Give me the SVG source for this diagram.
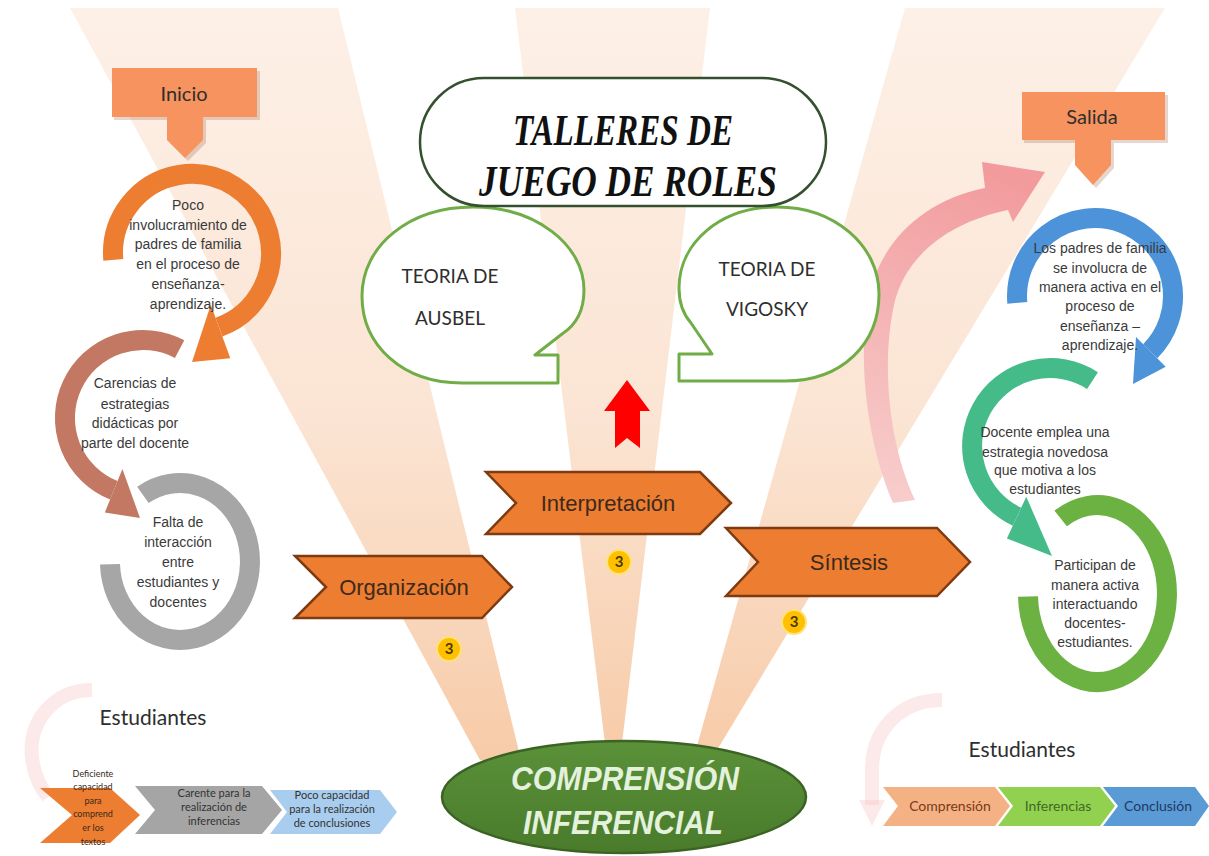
<svg xmlns="http://www.w3.org/2000/svg" width="1209" height="856" viewBox="0 0 1209 856">
<defs>
<linearGradient id="beam" gradientUnits="userSpaceOnUse" x1="0" y1="8" x2="0" y2="760">
<stop offset="0" stop-color="#fdf0e7"/>
<stop offset="0.55" stop-color="#fbe4d3"/>
<stop offset="1" stop-color="#f7cba8"/>
</linearGradient>
<linearGradient id="pink" gradientUnits="userSpaceOnUse" x1="1020" y1="175" x2="895" y2="500">
<stop offset="0" stop-color="#f29a9c"/>
<stop offset="1" stop-color="#f7cdcc"/>
</linearGradient>
<linearGradient id="ell" x1="0" y1="0" x2="0" y2="1">
<stop offset="0" stop-color="#5b9139"/>
<stop offset="1" stop-color="#497b2b"/>
</linearGradient>
</defs>
<style>
.ring{fill:none;stroke-width:20}
.rt{font-family:"Liberation Sans",Arial,sans-serif;font-size:14px;fill:#3a3a3a;text-anchor:middle}
.lbl{font-family:Lato,"Open Sans",sans-serif;fill:#2e2e2e;text-anchor:middle}
.chev{fill:#ed7d31;stroke:#7e3a10;stroke-width:2.5;stroke-linejoin:miter}
.ct{font-family:"Liberation Sans",Arial,sans-serif;font-size:22px;fill:#3b2a1c;text-anchor:middle}
.badge{fill:#ffc000;stroke:#ffe27a;stroke-width:2}
.bt{font-family:Lato,sans-serif;font-weight:bold;font-size:15px;fill:#4a3a00;text-anchor:middle}
.bub{fill:#ffffff;stroke:#70ad47;stroke-width:3;stroke-linejoin:round}
.callout{fill:#f7935f}
.shadow{fill:#9a5a3a;opacity:0.25}
.sm{font-family:Lato,"Open Sans",sans-serif;text-anchor:middle}
</style>
<rect width="1209" height="856" fill="#ffffff"/>
<g id="background">
<polygon fill="url(#beam)" points="70,8 338,8 521,760 480,760"/>
<polygon fill="url(#beam)" points="515,8 710,8 620,760 607,760"/>
<polygon fill="url(#beam)" points="905,8 1165,8 711,760 693,760"/>
</g>

<g id="connectors">
<path id="pink-arrow" fill="url(#pink)" d="M893,503 C866,440 858,360 868,300 C880,240 925,200 985,188 L982,162 L1045,172 L1013,222 L1008,210 C950,222 905,255 894,305 C882,360 887,440 915,500 Z"/>
<path id="red-arrow" fill="#ff0000" d="M627,380 L650,411 L640,411 L640,448 L627,438 L615,448 L615,411 L604,411 Z"/>
<path id="faint-left" d="M92,690 C55,690 28,720 32,758 C34,775 40,787 48,797" fill="none" stroke="#f5c0c0" stroke-width="14" opacity="0.35"/>
<path id="faint-right" d="M942,700 C900,700 872,730 872,770 L872,805" fill="none" stroke="#f5c0c0" stroke-width="14" opacity="0.35"/>
<polygon points="859,800 885,800 872,826" fill="#f5c0c0" opacity="0.35"/>
</g>

<g id="inicio">
<path class="shadow" d="M114,71 H260 V120 H206 V143 L188,161 L170,143 V120 H114 Z"/>
<path class="callout" d="M112,68 H257 V117 H203 V140 L185,158 L167,140 V117 H112 Z"/>
<text class="lbl" x="184" y="101" font-size="20">Inicio</text>
</g>

<g id="salida">
<path class="shadow" d="M1024,95 H1168 V143 H1114 V168 L1096,188 L1078,168 V143 H1024 Z"/>
<path class="callout" d="M1022,92 H1165 V140 H1111 V165 L1093,185 L1075,165 V140 H1022 Z"/>
<text class="lbl" x="1092" y="124" font-size="20">Salida</text>
</g>

<g id="ring-grey">
<path class="ring" stroke="#a6a6a6" d="M142.9,494.9 A70,78.5 0 1 1 110,564.2"/>
<text class="rt"><tspan x="178" y="527">Falta de</tspan><tspan x="178" y="547">interacción</tspan><tspan x="178" y="567">entre</tspan><tspan x="178" y="587">estudiantes y</tspan><tspan x="178" y="607">docentes</tspan></text>
</g>
<g id="ring-brown">
<path class="ring" stroke="#c37863" d="M179.6,349.1 A78,78 0 1 0 113.8,490.3"/>
<polygon fill="#c37863" points="122.4,469 104.8,512.6 140,518"/>
<text class="rt"><tspan x="135" y="388">Carencias de</tspan><tspan x="135" y="409">estrategias</tspan><tspan x="135" y="428">didácticas por</tspan><tspan x="135" y="448">parte del docente</tspan></text>
</g>
<g id="ring-orange">
<path class="ring" stroke="#ed7d31" d="M113.3,259.9 A79,79 0 1 1 219,327.2"/>
<polygon fill="#ed7d31" points="210.8,304.7 230.3,358.2 192,362"/>
<text class="rt"><tspan x="188" y="210">Poco</tspan><tspan x="188" y="230">involucramiento de</tspan><tspan x="188" y="249">padres de familia</tspan><tspan x="188" y="269">en el proceso de</tspan><tspan x="188" y="289">enseñanza-</tspan><tspan x="188" y="309">aprendizaje.</tspan></text>
</g>

<g id="ring-green">
<path class="ring" stroke="#6cb243" d="M1060.7,518.5 A69.5,88.5 0 1 1 1028,596.6"/>
<text class="rt"><tspan x="1095" y="570">Participan de</tspan><tspan x="1095" y="590">manera activa</tspan><tspan x="1095" y="609">interactuando</tspan><tspan x="1095" y="628">docentes-</tspan><tspan x="1095" y="647">estudiantes.</tspan></text>
</g>
<g id="ring-teal">
<path class="ring" stroke="#45bb8a" d="M1092.5,380.6 A78,78 0 1 0 1017,516.7"/>
<polygon fill="#45bb8a" points="1026.3,496.8 1006.9,538.4 1052,556"/>
<text class="rt"><tspan x="1045" y="437">Docente emplea una</tspan><tspan x="1045" y="457">estrategia novedosa</tspan><tspan x="1045" y="475">que motiva a los</tspan><tspan x="1045" y="494">estudiantes</tspan></text>
</g>
<g id="ring-blue">
<path class="ring" stroke="#4d93d9" d="M1017.3,302.8 A78,78 0 1 1 1150.2,351.2"/>
<polygon fill="#4d93d9" points="1136,337 1165.7,366.7 1133,384"/>
<text class="rt"><tspan x="1100" y="253">Los padres de familia</tspan><tspan x="1100" y="273">se involucra de</tspan><tspan x="1100" y="292">manera activa en el</tspan><tspan x="1100" y="311">proceso de</tspan><tspan x="1100" y="331">enseñanza –</tspan><tspan x="1100" y="350">aprendizaje.</tspan></text>
</g>

<g id="teoria-ausbel">
<path class="bub" d="M558,383 L462,383 C402,383 362,345 362,296 C362,245 410,207 473,207 C536,207 584,245 584,290 C584,310 576,325 562,334 L535,355 L558,355 Z"/>
<text class="lbl" font-size="19"><tspan x="450" y="283">TEORIA DE</tspan><tspan x="450" y="325">AUSBEL</tspan></text>
</g>
<g id="teoria-vigosky">
<path class="bub" d="M679,381 L785,381 C843,381 879,343 879,294 C879,245 834,207 777,207 C720,207 679,243 679,288 C679,303 683,314 691,323 L712,354 L679,354 Z"/>
<text class="lbl" font-size="19"><tspan x="767" y="276">TEORIA DE</tspan><tspan x="767" y="316">VIGOSKY</tspan></text>
</g>

<g id="titulo">
<rect x="420" y="78" width="406" height="128" rx="64" fill="#ffffff" stroke="#34502e" stroke-width="2.5"/>
<text font-family="'Liberation Serif','Times New Roman',serif" font-weight="bold" font-style="italic" font-size="44" fill="#111111" text-anchor="middle"><tspan x="623" y="145" textLength="220" lengthAdjust="spacingAndGlyphs">TALLERES DE</tspan><tspan x="628" y="196" textLength="298" lengthAdjust="spacingAndGlyphs">JUEGO DE ROLES</tspan></text>
</g>

<g id="organizacion">
<polygon class="chev" points="295,556 482,556 512,587 482,618 295,618 326,587"/>
<text class="ct" x="404" y="595">Organización</text>
</g>
<g id="interpretacion">
<polygon class="chev" points="486,472 700,472 731,503 700,534 486,534 516,503"/>
<text class="ct" x="608" y="511">Interpretación</text>
</g>
<g id="sintesis">
<polygon class="chev" points="726,528 937,528 970,562 937,596 726,596 758,562"/>
<text class="ct" x="849" y="570">Síntesis</text>
</g>

<g id="badge-1"><circle class="badge" cx="449" cy="649" r="12"/><text class="bt" x="449" y="654">3</text></g>
<g id="badge-2"><circle class="badge" cx="619" cy="562" r="12"/><text class="bt" x="619" y="567">3</text></g>
<g id="badge-3"><circle class="badge" cx="794" cy="622" r="12"/><text class="bt" x="794" y="627">3</text></g>

<g id="comprension-inferencial">
<ellipse cx="624" cy="797" rx="182" ry="56" fill="url(#ell)" stroke="#3b6324" stroke-width="2.5"/>
<text font-family="'Liberation Sans',Arial,sans-serif" font-weight="bold" font-style="italic" font-size="33" fill="#e4f1dc" text-anchor="middle"><tspan x="625" y="790" textLength="228" lengthAdjust="spacingAndGlyphs">COMPRENSIÓN</tspan><tspan x="623" y="834" textLength="200" lengthAdjust="spacingAndGlyphs">INFERENCIAL</tspan></text>
</g>

<g id="estudiantes-izq">
<text class="lbl" x="153" y="725" font-size="21">Estudiantes</text>
</g>
<g id="chev-deficiente">
<polygon fill="#ed7d31" points="40,788 110,788 140,815 110,843 40,843 72,815"/>
<text class="sm" font-size="9" fill="#3a2a1a"><tspan x="93" y="777">Deficiente</tspan><tspan x="93" y="790">capacidad</tspan><tspan x="93" y="804">para</tspan><tspan x="93" y="817">comprend</tspan><tspan x="93" y="831">er los</tspan><tspan x="93" y="845">textos</tspan></text>
</g>
<g id="chev-carente">
<polygon fill="#a5a5a5" points="135,786 262,786 282,810 262,834 135,834 155,810"/>
<text class="sm" font-size="11" fill="#333333"><tspan x="214" y="797">Carente para la</tspan><tspan x="214" y="811">realización de</tspan><tspan x="214" y="825">inferencias</tspan></text>
</g>
<g id="chev-poco">
<polygon fill="#a9cdee" points="270,790 380,790 397,812 380,834 270,834 287,812"/>
<text class="sm" font-size="11" fill="#333333"><tspan x="332" y="799">Poco capacidad</tspan><tspan x="332" y="813">para la realización</tspan><tspan x="332" y="827">de conclusiones</tspan></text>
</g>

<g id="estudiantes-der">
<text class="lbl" x="1022" y="757" font-size="21">Estudiantes</text>
</g>
<g id="chev-comprension">
<polygon fill="#f4b183" points="883,787 995,787 1010,806 995,826 883,826 898,806"/>
<text class="sm" x="950" y="811" font-size="14" fill="#7a3a1c">Comprensión</text>
</g>
<g id="chev-inferencias">
<polygon fill="#92d050" points="998,787 1100,787 1115,806 1100,826 998,826 1013,806"/>
<text class="sm" x="1058" y="811" font-size="14" fill="#3f6b22">Inferencias</text>
</g>
<g id="chev-conclusion">
<polygon fill="#5b9bd5" points="1103,787 1195,787 1209,806 1195,826 1103,826 1118,806"/>
<text class="sm" x="1158" y="811" font-size="14" fill="#1f3864">Conclusión</text>
</g>
</svg>
